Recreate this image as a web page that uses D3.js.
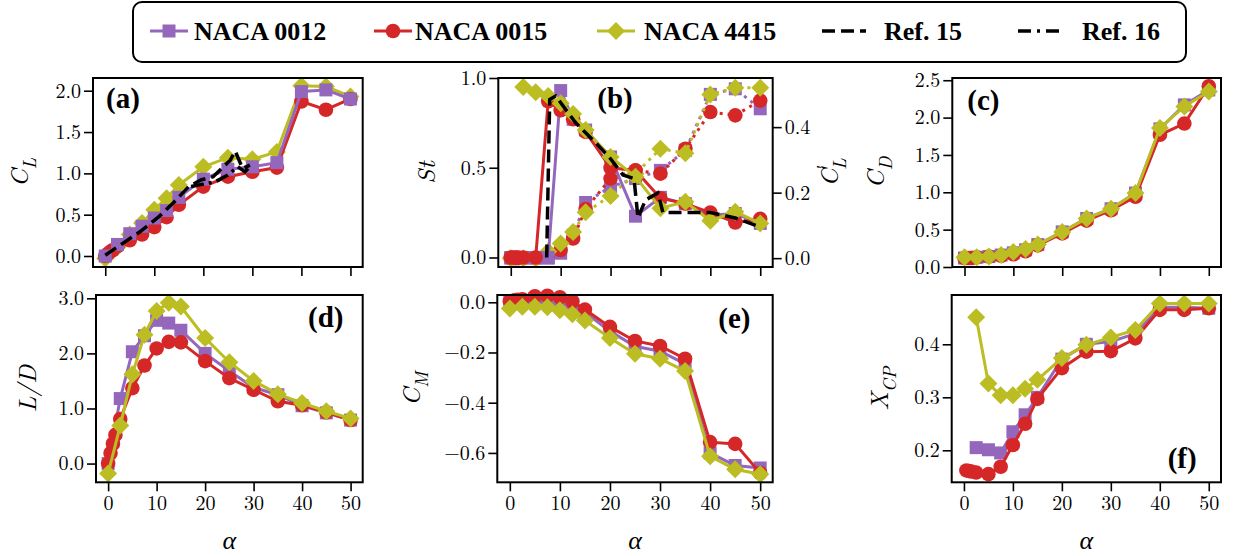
<!DOCTYPE html>
<html><head><meta charset="utf-8">
<script src="https://cdn.jsdelivr.net/npm/d3@7"></script>
</head><body style="margin:0">
<div id="fig"></div>
<script>
// angles of attack: NACA 0012 / 4415 share one grid, NACA 0015 has extra low angles
var alphaA = [0, 2.5, 5, 7.5, 10, 12.5, 15, 20, 25, 30, 35, 40, 45, 50];
var alphaB = [0, 0.5, 1, 1.5, 2.5, 5, 7.5, 10, 12.5, 15, 20, 25, 30, 35, 40, 45, 50];

// (a) lift coefficient
var cl0012 = [0.0, 0.14, 0.27, 0.36, 0.46, 0.55, 0.71, 0.93, 1.05, 1.08, 1.13, 1.99, 2.01, 1.90];
var cl0015 = [0.0, 0.025, 0.05, 0.07, 0.12, 0.19, 0.26, 0.35, 0.47, 0.62, 0.84, 0.96, 1.02, 1.07, 1.87, 1.77, 1.90];
var cl4415 = [-0.03, 0.11, 0.26, 0.40, 0.56, 0.70, 0.86, 1.08, 1.19, 1.17, 1.26, 2.06, 2.05, 1.93];

// (b) Strouhal number (left axis) and fluctuating lift (right axis)
var st0012 = [0, 0, 0, 0, 0.93, 0.77, 0.71, 0.56, 0.23, 0.335, 0.30, 0.235, 0.245, 0.19];
var st0015 = [0, 0, 0, 0, 0, 0, 0.87, 0.82, 0.77, 0.70, 0.50, 0.485, 0.33, 0.30, 0.25, 0.195, 0.215];
var st4415 = [null, 0.95, 0.92, 0.90, 0.86, 0.80, 0.71, 0.56, 0.45, 0.275, 0.31, 0.205, 0.255, 0.19];
var clp0012 = [0, 0, 0, 0, 0.015, 0.07, 0.17, 0.218, 0.243, 0.268, 0.329, 0.50, 0.517, 0.456];
var clp0015 = [0, 0, 0, 0, 0, 0, 0.01, 0.025, 0.06, 0.15, 0.243, 0.268, 0.258, 0.334, 0.446, 0.436, 0.481];
var clp4415 = [0, 0, 0, 0.02, 0.045, 0.08, 0.14, 0.19, 0.258, 0.334, 0.32, 0.50, 0.52, 0.52];

// (c) drag coefficient
var cd0012 = [0.12, 0.13, 0.14, 0.16, 0.19, 0.23, 0.30, 0.47, 0.65, 0.78, 0.99, 1.85, 2.17, 2.37];
var cd0015 = [0.12, 0.12, 0.12, 0.12, 0.13, 0.14, 0.15, 0.17, 0.21, 0.29, 0.45, 0.62, 0.76, 0.94, 1.77, 1.92, 2.42];
var cd4415 = [0.13, 0.13, 0.14, 0.16, 0.20, 0.24, 0.30, 0.47, 0.65, 0.78, 0.99, 1.86, 2.15, 2.35];

// (d) lift to drag ratio
var ld0012 = [0.0, 1.18, 2.03, 2.32, 2.6, 2.55, 2.42, 2.0, 1.68, 1.38, 1.25, 1.05, 0.92, 0.79];
var ld0015 = [0.0, 0.19, 0.36, 0.52, 0.81, 1.37, 1.78, 2.09, 2.21, 2.2, 1.86, 1.55, 1.34, 1.13, 1.06, 0.93, 0.79];
var ld4415 = [-0.18, 0.69, 1.62, 2.34, 2.77, 2.92, 2.85, 2.28, 1.84, 1.5, 1.26, 1.1, 0.95, 0.82];

// (e) moment coefficient
var cm0012 = [0.0, 0.008, 0.015, 0.015, 0.008, -0.008, -0.04, -0.115, -0.175, -0.195, -0.245, -0.60, -0.65, -0.66];
var cm0015 = [0.003, 0.005, 0.008, 0.01, 0.012, 0.024, 0.026, 0.02, 0.003, -0.029, -0.098, -0.154, -0.174, -0.225, -0.557, -0.564, -0.68];
var cm4415 = [-0.025, -0.018, -0.018, -0.02, -0.032, -0.048, -0.073, -0.142, -0.205, -0.225, -0.274, -0.613, -0.665, -0.685];

// (f) centre of pressure
var xcp0012 = [null, 0.205, 0.201, 0.195, 0.235, 0.267, 0.30, 0.372, 0.40, 0.405, 0.42, 0.47, 0.47, 0.468];
var xcp0015 = [null, 0.162, 0.161, 0.160, 0.158, 0.155, 0.169, 0.21, 0.25, 0.297, 0.355, 0.386, 0.387, 0.411, 0.465, 0.465, 0.468];
var xcp4415 = [null, 0.451, 0.326, 0.304, 0.304, 0.316, 0.333, 0.374, 0.399, 0.413, 0.427, 0.477, 0.477, 0.477];

// reference curves
var ref15AlphaCl = [0, 3.5, 7, 11, 14, 17, 19.5, 22, 25.5, 26.5, 28, 29.5];
var ref15Cl = [0.01, 0.15, 0.29, 0.48, 0.65, 0.84, 0.92, 0.96, 1.16, 1.27, 1.06, 1.10];
var ref16AlphaCl = [17.5, 20, 22.5, 25, 27, 28.5, 29.5];
var ref16Cl = [0.84, 0.87, 0.90, 0.98, 1.08, 1.02, 1.08];
var ref15AlphaSt = [7.2, 7.8, 9, 13, 17, 20, 22.5, 24.7, 25.5, 27, 29.5, 30.5, 40, 45, 50];
var ref15St = [0, 0.88, 0.90, 0.75, 0.64, 0.55, 0.46, 0.44, 0.22, 0.32, 0.36, 0.25, 0.25, 0.22, 0.17];

var alphaTicks = [0, 10, 20, 30, 40, 50];

var colors = {p: '#9467bd', r: '#d62728', o: '#bcbd22'};
var cmFont = "'Latin Modern Roman'";
var timesFont = "'Liberation Serif'";

var series = [
    {name: 'NACA 0012', color: colors.p, shape: 'square', alpha: alphaA},
    {name: 'NACA 0015', color: colors.r, shape: 'circle', alpha: alphaB},
    {name: 'NACA 4415', color: colors.o, shape: 'diamond', alpha: alphaA}
];

var svg = d3.select('#fig').append('svg')
    .attr('width', 1235)
    .attr('height', 556);

// set the face both as attribute and as important inline style
function face(sel, fam) {
    return sel.attr('font-family', fam).style('font-family', fam, 'important');
}

function markerPath(shape) {
    if (shape === 'square') return d3.symbol(d3.symbolSquare, 13 * 13)();
    if (shape === 'circle') return d3.symbol(d3.symbolCircle, Math.PI * 7.3 * 7.3)();
    return 'M0,-9L9,0L0,9L-9,0Z';
}

// math-ish label: parts = [[text, kind]]
function mathLabel(g, parts, size) {
    var t = face(g.append('text'), cmFont)
        .attr('text-anchor', 'middle')
        .attr('font-size', size)
        .attr('font-style', 'italic');
    parts.forEach(function(p) {
        var s = t.append('tspan').text(p[0]);
        if (p[1] === 'sub') s.attr('dy', size * 0.3).attr('font-size', size * 0.72);
        if (p[1] === 'sup') s.attr('dy', -size * 0.32).attr('font-size', size * 0.72).attr('font-style', 'normal');
        if (p[1] === 'subafter') s.attr('dy', size * 0.62).attr('dx', -size * 0.2).attr('font-size', size * 0.72);
    });
    return t;
}

var panels = [
    {box: [93, 78, 362.7, 267], y: [-0.133, 2.154], ticks: [0, 0.5, 1, 1.5, 2],
     vals: [cl0012, cl0015, cl4415], order: [2, 1, 0], bottom: false,
     ylab: [['C', 'i'], ['L', 'sub']], ylabX: 20, tag: '(a)', tagAt: [13, 30]},
    {box: [498.3, 78, 772.7, 267], y: [-0.053, 1.0], ticks: [0, 0.5, 1.0],
     vals: [st0012, st0015, st4415], order: [0, 1, 2], bottom: false,
     ylab: [['St', 'i']], ylabX: 427, tag: '(b)', tagAt: [99, 30],
     right: {y: [-0.027, 0.55], ticks: [0, 0.2, 0.4], vals: [clp0012, clp0015, clp4415],
             ylab: [['C', 'i'], ['\u2032', 'sup'], ['L', 'subafter']], ylabX: 838}},
    {box: [952.3, 78, 1221, 267], y: [0.0, 2.53], ticks: [0, 0.5, 1, 1.5, 2, 2.5],
     vals: [cd0012, cd0015, cd4415], order: [0, 1, 2], bottom: false,
     ylab: [['C', 'i'], ['D', 'sub']], ylabX: 876, tag: '(c)', tagAt: [15, 32]},
    {box: [96, 295, 362.7, 482.3], y: [-0.34, 3.06], ticks: [0, 1, 2, 3],
     vals: [ld0012, ld0015, ld4415], order: [0, 1, 2], bottom: true,
     ylab: [['L/D', 'i']], ylabX: 28, tag: '(d)', tagAt: [212, 32]},
    {box: [497.3, 295, 772.7, 482.3], y: [-0.717, 0.029], ticks: [0, -0.2, -0.4, -0.6],
     vals: [cm0012, cm0015, cm4415], order: [0, 1, 2], bottom: true,
     ylab: [['C', 'i'], ['M', 'sub']], ylabX: 412, tag: '(e)', tagAt: [221, 33]},
    {box: [951.7, 295, 1221, 482.3], y: [0.1396, 0.493], ticks: [0.2, 0.3, 0.4],
     vals: [xcp0012, xcp0015, xcp4415], order: [0, 1, 2], bottom: true,
     ylab: [['X', 'i'], ['CP', 'sub']], ylabX: 880, tag: '(f)', tagAt: [216, 173]}
];

var fmt = d3.format('.1f');

function drawSeries(g, x, y, s, vals, dashed) {
    var pts = s.alpha.map(function(a, i) { return [a, vals[i]]; })
        .filter(function(d) { return d[1] !== null && d[1] !== undefined; });
    var line = d3.line().x(function(d) { return x(d[0]); }).y(function(d) { return y(d[1]); });
    g.append('path')
        .attr('d', line(pts))
        .attr('fill', 'none')
        .attr('stroke', s.color)
        .attr('stroke-width', 3)
        .attr('stroke-dasharray', dashed ? '3,5' : null);
    g.selectAll(null).data(pts).enter().append('path')
        .attr('d', markerPath(s.shape))
        .attr('transform', function(d) { return 'translate(' + x(d[0]) + ',' + y(d[1]) + ')'; })
        .attr('fill', s.color);
}

function drawRef(g, x, y, xs, ys, dash) {
    var pts = xs.map(function(a, i) { return [a, ys[i]]; });
    g.append('path')
        .attr('d', d3.line().x(function(d) { return x(d[0]); }).y(function(d) { return y(d[1]); })(pts))
        .attr('fill', 'none')
        .attr('stroke', '#000')
        .attr('stroke-width', 3.5)
        .attr('stroke-dasharray', dash);
}

function styleAxis(a) {
    a.attr('font-family', cmFont).attr('font-size', 20);
    a.select('.domain').remove();
    a.selectAll('.tick line').attr('stroke', '#000').attr('stroke-width', 1.6);
    face(a.selectAll('.tick text'), cmFont)
        .attr('font-size', 20)
        .attr('fill', '#000');
}

panels.forEach(function(p, k) {
    var x0 = p.box[0], y0 = p.box[1], x1 = p.box[2], y1 = p.box[3];
    var x = d3.scaleLinear().domain([-2.5, 52.5]).range([x0, x1]);
    var y = d3.scaleLinear().domain(p.y).range([y1, y0]);
    var g = svg.append('g');

    // axes
    var ax = g.append('g').attr('transform', 'translate(0,' + y1 + ')')
        .call(d3.axisBottom(x).tickValues(alphaTicks).tickSize(9).tickSizeOuter(0).tickPadding(5)
            .tickFormat(p.bottom ? d3.format('d') : function() { return ''; }));
    styleAxis(ax);
    var ay = g.append('g').attr('transform', 'translate(' + x0 + ',0)')
        .call(d3.axisLeft(y).tickValues(p.ticks).tickSize(9).tickSizeOuter(0).tickPadding(3).tickFormat(fmt));
    styleAxis(ay);

    var data = g.append('g');

    if (p.right) {
        var yr = d3.scaleLinear().domain(p.right.y).range([y1, y0]);
        var ar = g.append('g').attr('transform', 'translate(' + x1 + ',0)')
            .call(d3.axisRight(yr).tickValues(p.right.ticks).tickSize(9).tickSizeOuter(0).tickPadding(3).tickFormat(fmt));
        styleAxis(ar);
        p.order.forEach(function(i) { drawSeries(data, x, yr, series[i], p.right.vals[i], true); });
        mathLabel(g.append('g').attr('transform', 'translate(' + p.right.ylabX + ',' + ((y0 + y1) / 2) + ') rotate(-90)'),
            p.right.ylab, 25).attr('y', 0);
    }

    p.order.forEach(function(i) { drawSeries(data, x, y, series[i], p.vals[i], false); });

    if (k === 0) {
        drawRef(data, x, y, ref15AlphaCl, ref15Cl, '13,6');
        drawRef(data, x, y, ref16AlphaCl, ref16Cl, '13,5,3,5');
    }
    if (k === 1) {
        drawRef(data, x, y, ref15AlphaSt, ref15St, '13,6');
    }

    // frame
    g.append('rect')
        .attr('x', x0).attr('y', y0).attr('width', x1 - x0).attr('height', y1 - y0)
        .attr('fill', 'none').attr('stroke', '#000').attr('stroke-width', 2);

    // panel tag
    face(g.append('text'), timesFont)
        .attr('x', x0 + p.tagAt[0]).attr('y', y0 + p.tagAt[1])
        .attr('font-size', 29).attr('font-weight', 'bold')
        .text(p.tag);

    // y label
    mathLabel(g.append('g').attr('transform', 'translate(' + p.ylabX + ',' + ((y0 + y1) / 2) + ') rotate(-90)'),
        p.ylab, 25).attr('y', 8);

    if (p.bottom) {
        face(g.append('text'), cmFont)
            .attr('x', (x0 + x1) / 2).attr('y', 549)
            .attr('text-anchor', 'middle')
            .attr('font-size', 26).attr('font-style', 'italic')
            .text('\u03b1');
    }
});

// legend
var leg = svg.append('g');
leg.append('rect')
    .attr('x', 133).attr('y', 2).attr('width', 1053).attr('height', 60).attr('rx', 9)
    .attr('fill', '#fff').attr('stroke', '#000').attr('stroke-width', 2);

var legItems = [
    {s: series[0], hx: 150, tx: 194},
    {s: series[1], hx: 374, tx: 415},
    {s: series[2], hx: 597, tx: 644},
    {name: 'Ref. 15', dash: '13,6', hx: 822, tx: 884},
    {name: 'Ref. 16', dash: '13,6,3,6', hx: 1018, tx: 1082}
];
legItems.forEach(function(it) {
    var cy = 31;
    if (it.s) {
        leg.append('line').attr('x1', it.hx).attr('x2', it.hx + 38).attr('y1', cy).attr('y2', cy)
            .attr('stroke', it.s.color).attr('stroke-width', 3);
        leg.append('path').attr('d', markerPath(it.s.shape))
            .attr('transform', 'translate(' + (it.hx + 19) + ',' + cy + ')')
            .attr('fill', it.s.color);
    } else {
        leg.append('line').attr('x1', it.hx).attr('x2', it.hx + 44).attr('y1', cy).attr('y2', cy)
            .attr('stroke', '#000').attr('stroke-width', 3.5).attr('stroke-dasharray', it.dash);
    }
    face(leg.append('text'), timesFont)
        .attr('x', it.tx).attr('y', cy + 9)
        .attr('font-size', 26).attr('font-weight', 'bold')
        .text(it.s ? it.s.name : it.name);
});
</script>
</body></html>
